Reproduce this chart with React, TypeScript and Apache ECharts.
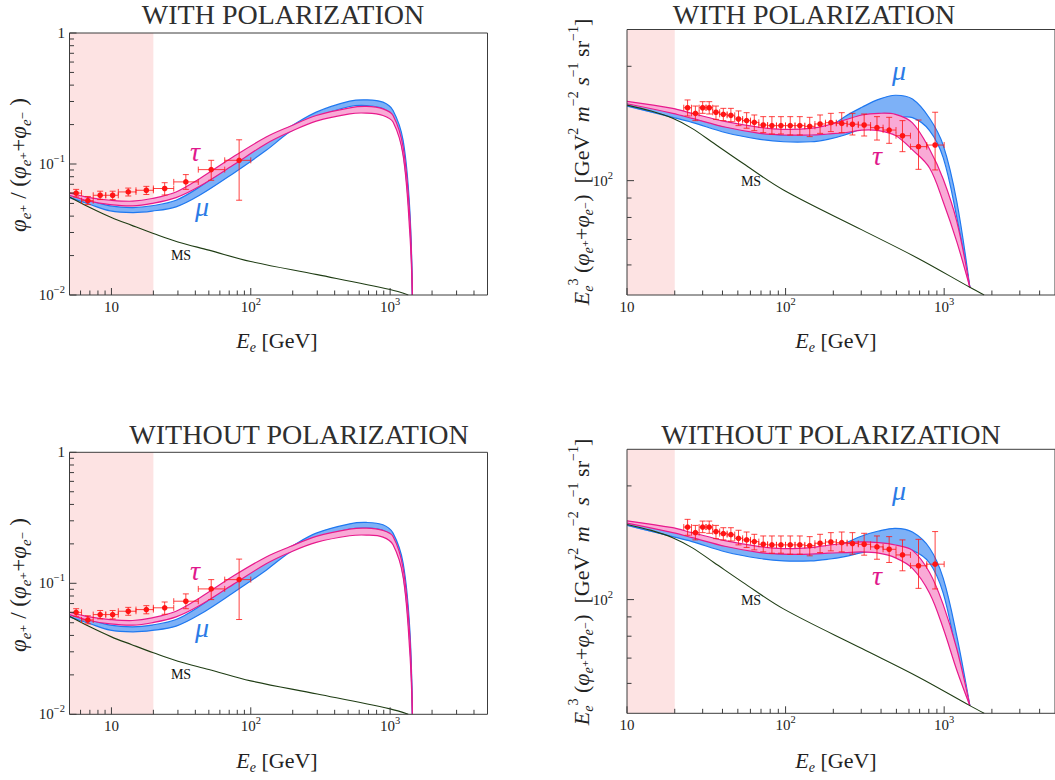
import React, { useEffect, useRef } from "react";
import * as echarts from "echarts";

/* ===================== DATA ===================== */
// Positron fraction measurements (left panels)
const FRAC_E = [5.58, 6.77, 8.3, 10.2, 13.2, 17.8, 24.1, 34.2, 52.0, 82.5];
const FRAC_E_LO = [5.0, 6.1, 7.4, 9.1, 11.2, 15.0, 20.0, 28.0, 42.0, 65.0];
const FRAC_E_HI = [6.1, 7.4, 9.1, 11.2, 15.0, 20.0, 28.0, 42.0, 65.0, 100.0];
const FRAC_VAL = [0.06, 0.0525, 0.0577, 0.0577, 0.0612, 0.063, 0.065, 0.073, 0.0906, 0.1067];
const FRAC_LO = [0.056, 0.049, 0.0535, 0.0535, 0.057, 0.0585, 0.058, 0.064, 0.0751, 0.0529];
const FRAC_HI = [0.064, 0.0565, 0.062, 0.062, 0.0655, 0.0675, 0.072, 0.083, 0.1067, 0.153];

// E^3 (e+ + e-) flux measurements (right panels)
const FLUX_E = [24.1, 27.0, 30.0, 33.0, 36.4, 40.5, 45.2, 50.5, 56.8, 63.5, 72.3, 82.0, 93.5, 107, 123, 142, 165, 193, 226, 264, 313, 377, 450, 546, 689, 877];
const FLUX_E_LO = [22.8, 25.5, 28.5, 31.5, 34.7, 38.4, 42.8, 47.8, 53.6, 60.1, 67.8, 77.0, 87.6, 99.9, 114.7, 132.2, 153.1, 178.5, 208.9, 244.3, 287.5, 343.5, 412, 497, 613, 777];
const FLUX_E_HI = [25.5, 28.5, 31.5, 34.7, 38.4, 42.8, 47.8, 53.6, 60.1, 67.8, 77.0, 87.6, 99.9, 114.7, 132.2, 153.1, 178.5, 208.9, 244.3, 287.5, 343.5, 412, 497, 613, 777, 1000];
const FLUX_VAL = [155.6, 150.4, 155.6, 155.6, 151.4, 149.5, 148.6, 145.3, 143.9, 142.4, 140.1, 139.6, 139.6, 139.6, 139.6, 139.0, 141.0, 142.1, 141.5, 140.8, 140.1, 137.9, 135.9, 131.3, 122.9, 124.1];
const FLUX_LO = [148.0, 143.9, 150.4, 149.8, 145.0, 143.9, 143.0, 139.6, 137.4, 135.4, 133.8, 132.7, 132.7, 131.9, 131.9, 130.6, 133.2, 134.6, 133.8, 131.9, 131.1, 127.9, 125.4, 119.2, 107.1, 106.7];
const FLUX_HI = [163.1, 157.2, 161.4, 161.4, 157.2, 155.0, 155.0, 152.6, 151.0, 148.9, 147.4, 147.4, 147.4, 147.4, 147.4, 146.8, 148.9, 150.4, 151.0, 150.4, 149.8, 147.4, 146.8, 143.9, 144.4, 151.4];

// Model bands, positron fraction
const FRAC_BAND_E = [5, 6.95, 9.8, 14.2, 19.6, 29.1, 42.9, 74.4, 129, 190, 295, 513, 676, 889, 1050, 1240, 1384, 1445];
const A_MU_LO = [0.0554, 0.0493, 0.0439, 0.0426, 0.0437, 0.0471, 0.0577, 0.0844, 0.1271, 0.1753, 0.228, 0.2749, 0.2797, 0.265, 0.225, 0.12, 0.035, 0.01];
const A_MU_UP = [0.0581, 0.0529, 0.0479, 0.0465, 0.048, 0.0529, 0.0668, 0.1006, 0.1514, 0.1913, 0.2488, 0.3018, 0.3089, 0.2966, 0.2563, 0.1514, 0.045, 0.01];
const A_TAU_LO = [0.0577, 0.052, 0.049, 0.0479, 0.05, 0.0554, 0.0676, 0.0977, 0.1428, 0.1753, 0.2126, 0.2416, 0.2445, 0.2347, 0.2089, 0.1164, 0.03, 0.01];
const A_TAU_UP = [0.0601, 0.0554, 0.0529, 0.052, 0.0545, 0.0612, 0.0773, 0.1131, 0.1606, 0.1935, 0.2347, 0.2685, 0.2749, 0.2638, 0.2347, 0.1347, 0.04, 0.01];
const C_MU_LO = [0.0554, 0.0493, 0.0439, 0.0426, 0.0437, 0.0471, 0.0577, 0.0844, 0.126, 0.172, 0.22, 0.2593, 0.2638, 0.2533, 0.215, 0.115, 0.035, 0.01];
const C_MU_UP = [0.0581, 0.0529, 0.0479, 0.0465, 0.048, 0.0529, 0.0668, 0.1006, 0.15, 0.188, 0.2416, 0.2846, 0.2914, 0.2797, 0.2416, 0.1428, 0.045, 0.01];
const C_TAU_LO = [0.0577, 0.052, 0.049, 0.0479, 0.05, 0.0554, 0.0676, 0.0977, 0.141, 0.172, 0.2052, 0.2307, 0.2334, 0.2254, 0.197, 0.112, 0.03, 0.01];
const C_TAU_UP = [0.0601, 0.0554, 0.0529, 0.052, 0.0545, 0.0612, 0.0773, 0.1131, 0.159, 0.19, 0.228, 0.2593, 0.2638, 0.2533, 0.228, 0.13, 0.04, 0.01];
const FRAC_MS_E = [5, 7, 10, 14, 20, 30, 50, 100, 300, 1000, 1350];
const FRAC_MS = [0.056, 0.0465, 0.039, 0.034, 0.0295, 0.0254, 0.022, 0.018, 0.0143, 0.011, 0.01];

// Model bands, E^3 flux
const FLUX_BAND_E = [10, 19.4, 25.7, 42.1, 68.8, 97, 144, 185, 236, 303, 386, 493, 631, 809, 986, 1202, 1452];
const B_MU_LO = [157.2, 146.8, 142.4, 133.7, 128.5, 126.6, 126.6, 128.5, 131.9, 137.3, 143.0, 146.0, 146.5, 135.5, 115.0, 80.0, 52.4];
const B_MU_UP = [160.7, 151.0, 146.8, 138.7, 134.0, 131.9, 133.2, 137.3, 147.4, 156.0, 163.7, 167.8, 164.0, 146.0, 124.0, 88.0, 52.4];
const B_TAU_LO = [159.4, 150.4, 145.9, 138.2, 133.2, 131.9, 131.9, 132.7, 133.7, 135.9, 135.5, 131.5, 120.5, 108.0, 88.0, 69.0, 52.4];
const B_TAU_UP = [161.7, 155.0, 150.4, 143.0, 138.2, 136.5, 137.3, 140.1, 144.4, 148.9, 150.4, 149.5, 142.0, 121.0, 101.0, 78.0, 52.4];
const D_MU_LO = [157.2, 146.8, 142.4, 133.7, 128.5, 126.6, 126.6, 127.9, 130.0, 133.2, 135.4, 136.5, 135.0, 125.0, 104.0, 72.0, 52.4];
const D_MU_UP = [160.7, 151.0, 146.8, 138.7, 134.0, 131.9, 132.7, 135.9, 141.0, 147.4, 151.9, 154.4, 151.0, 137.0, 114.0, 80.0, 52.4];
const D_TAU_LO = [159.4, 150.4, 145.9, 138.2, 133.2, 131.9, 131.9, 132.7, 133.2, 133.7, 132.7, 129.0, 121.0, 104.0, 84.0, 65.0, 52.4];
const D_TAU_UP = [161.7, 155.0, 150.4, 143.0, 138.2, 136.5, 137.3, 139.3, 141.0, 142.1, 141.5, 139.5, 135.0, 118.0, 97.0, 74.0, 52.4];
const FLUX_MS_E = [10, 14.2, 19.4, 25.7, 35.3, 53.8, 97, 303, 682, 1452, 1787];
const FLUX_MS = [158.1, 152.5, 145.9, 137.3, 125.4, 111.1, 94.5, 74.2, 62.5, 52.4, 50.0];

// Axis ranges, shaded region, ticks and labels
const FRAC_X_RANGE = [5, 5000];
const FRAC_Y_RANGE = [0.01, 1];
const FLUX_X_RANGE = [10, 5000];
const FLUX_Y_RANGE = [50, 250];
const FRAC_SHADE = [5, 20];
const FLUX_SHADE = [10, 20];
const X_MAJOR = [10, 100, 1000];
const FRAC_X_MINOR = [6, 7, 8, 9, 20, 30, 40, 50, 60, 70, 80, 90, 200, 300, 400, 500, 600, 700, 800, 900, 2000, 3000, 4000];
const FLUX_X_MINOR = [20, 30, 40, 50, 60, 70, 80, 90, 200, 300, 400, 500, 600, 700, 800, 900, 2000, 3000, 4000];
const X_LABEL_EXP = [1, 2, 3];
const FRAC_Y_MAJOR = [0.01, 0.1, 1];
const FRAC_Y_MINOR = [0.02, 0.03, 0.04, 0.05, 0.06, 0.07, 0.08, 0.09, 0.2, 0.3, 0.4, 0.5, 0.6, 0.7, 0.8, 0.9];
const FRAC_Y_LABEL_EXP = [-2, -1, 0];
const FLUX_Y_MAJOR = [100];
const FLUX_Y_MINOR = [60, 70, 80, 90, 200];
const FLUX_Y_LABEL_EXP = [2];

/* ===================== STYLE ===================== */
const SERIF = "Liberation Serif, Times New Roman, DejaVu Serif, serif";
const TXT = "#222222";
const BLUE_EDGE = "#1f78f0";
const BLUE_FILL = "#7db1f7";
const PINK_EDGE = "#e8198c";
const PINK_FILL = "#f9aad6";
const MS_COLOR = "#1f3d14";
const DOT_RED = "#ff1414";
const BAR_RED = "rgba(255,20,20,0.8)";
const SHADE_COLOR = "#fde3e3";
const FRAME = "#3c3c3c";
const SMOOTH = 0.35;

const lg = Math.log10;

const tickRich = {
  b: { fontFamily: SERIF, fontSize: 15, color: TXT, lineHeight: 22 },
  u: { fontFamily: SERIF, fontSize: 10.5, color: TXT, lineHeight: 12, verticalAlign: "top" },
};

function fmtExp(v: number) {
  const n = Math.round(v);
  if (n === 0) return "{b|1}";
  if (n === 1) return "{b|10}";
  return "{b|10}{u|" + (n < 0 ? "\u2212" + -n : String(n)) + "}";
}

function nameRich(size: number) {
  const lh = Math.round(size * 1.3);
  const sl = Math.round(size * 0.75);
  const ss = Math.round(size * 0.64);
  return {
    n: { fontFamily: SERIF, fontSize: size, fill: TXT, lineHeight: lh },
    i: { fontFamily: SERIF, fontStyle: "italic", fontSize: size, fill: TXT, lineHeight: lh },
    s: { fontFamily: SERIF, fontStyle: "italic", fontSize: ss, fill: TXT, lineHeight: sl, verticalAlign: "bottom" },
    u: { fontFamily: SERIF, fontSize: ss, fill: TXT, lineHeight: sl, verticalAlign: "top" },
  };
}

// A band between two curves, drawn as a smoothed polygon with its two edge lines.
function bandSeries(gi: number, E: number[], lo: number[], up: number[], fill: string, edge: string, z: number) {
  const upL = E.map((e, i) => [lg(e), lg(up[i])]);
  const loL = E.map((e, i) => [lg(e), lg(lo[i])]);
  const sharedEnd = lo[lo.length - 1] === up[up.length - 1];
  return {
    type: "custom",
    xAxisIndex: gi,
    yAxisIndex: gi,
    silent: true,
    clip: true,
    z,
    data: E.map((e, i) => [lg(e), lg(lo[i]), lg(up[i])]),
    renderItem: (params: any, api: any) => {
      if (params.dataIndex !== 0) return null;
      const u = upL.map((p) => api.coord(p));
      const l = loL.map((p) => api.coord(p));
      const back = (sharedEnd ? l.slice(0, l.length - 1) : l.slice()).reverse();
      return {
        type: "group",
        children: [
          { type: "polygon", shape: { points: u.concat(back), smooth: SMOOTH }, style: { fill, lineWidth: 0 } },
          { type: "polyline", shape: { points: u, smooth: SMOOTH }, style: { stroke: edge, lineWidth: 1.2, fill: "none" } },
          { type: "polyline", shape: { points: l, smooth: SMOOTH }, style: { stroke: edge, lineWidth: 1.2, fill: "none" } },
        ],
      };
    },
  };
}

function buildOption() {
  const panels = [
    { geo: { left: 69.5, top: 33, width: 418, height: 262 }, kind: "frac", mu: [A_MU_LO, A_MU_UP], tau: [A_TAU_LO, A_TAU_UP] },
    { geo: { left: 627, top: 29.5, width: 428.5, height: 265.5 }, kind: "flux", mu: [B_MU_LO, B_MU_UP], tau: [B_TAU_LO, B_TAU_UP] },
    { geo: { left: 69.5, top: 452.3, width: 418, height: 262 }, kind: "frac", mu: [C_MU_LO, C_MU_UP], tau: [C_TAU_LO, C_TAU_UP] },
    { geo: { left: 627, top: 449.3, width: 428.5, height: 264 }, kind: "flux", mu: [D_MU_LO, D_MU_UP], tau: [D_TAU_LO, D_TAU_UP] },
  ];

  const grids: any[] = [];
  const xAxes: any[] = [];
  const yAxes: any[] = [];
  const series: any[] = [];

  panels.forEach((p, gi) => {
    const frac = p.kind === "frac";
    const xr = frac ? FRAC_X_RANGE : FLUX_X_RANGE;
    const yr = frac ? FRAC_Y_RANGE : FLUX_Y_RANGE;
    const shade = frac ? FRAC_SHADE : FLUX_SHADE;
    const bandE = frac ? FRAC_BAND_E : FLUX_BAND_E;
    const xMinL = lg(xr[0]);
    const yMinL = lg(yr[0]);
    const yMaxL = lg(yr[1]);

    grids.push({ ...p.geo, show: true, borderColor: FRAME, borderWidth: 1, backgroundColor: "transparent", z: 10 });
    xAxes.push({
      gridIndex: gi,
      type: "value",
      min: xMinL,
      max: lg(xr[1]),
      axisLine: { show: false },
      axisTick: { show: false },
      splitLine: { show: false },
      axisLabel: { customValues: X_LABEL_EXP, formatter: fmtExp, margin: 1, rich: tickRich, fontFamily: SERIF, fontSize: 15, color: TXT },
    });
    yAxes.push({
      gridIndex: gi,
      type: "value",
      min: yMinL,
      max: yMaxL,
      axisLine: { show: false },
      axisTick: { show: false },
      splitLine: { show: false },
      axisLabel: {
        customValues: frac ? FRAC_Y_LABEL_EXP : FLUX_Y_LABEL_EXP,
        formatter: fmtExp,
        margin: frac ? 4.5 : 14,
        rich: tickRich,
        fontFamily: SERIF,
        fontSize: 15,
        color: TXT,
      },
    });

    // shaded low-energy region
    series.push({
      type: "custom",
      xAxisIndex: gi,
      yAxisIndex: gi,
      silent: true,
      z: 1,
      data: [[lg(shade[0]), lg(shade[1])]],
      renderItem: (params: any, api: any) => {
        const a = api.coord([api.value(0), yMaxL]);
        const b = api.coord([api.value(1), yMinL]);
        return { type: "rect", shape: { x: a[0], y: a[1], width: b[0] - a[0], height: b[1] - a[1] }, style: { fill: SHADE_COLOR } };
      },
    });

    // bands
    series.push(bandSeries(gi, bandE, p.mu[0], p.mu[1], BLUE_FILL, BLUE_EDGE, 3));
    series.push(bandSeries(gi, bandE, p.tau[0], p.tau[1], PINK_FILL, PINK_EDGE, 4));

    // MS background line
    const msE = frac ? FRAC_MS_E : FLUX_MS_E;
    const msV = frac ? FRAC_MS : FLUX_MS;
    series.push({
      type: "line",
      xAxisIndex: gi,
      yAxisIndex: gi,
      symbol: "none",
      showSymbol: false,
      smooth: SMOOTH,
      silent: true,
      z: 5,
      lineStyle: { color: MS_COLOR, width: 1.1 },
      data: msE.map((e, i) => [lg(e), lg(msV[i])]),
    });

    // data points with error bars
    const dE = frac ? FRAC_E : FLUX_E;
    const dElo = frac ? FRAC_E_LO : FLUX_E_LO;
    const dEhi = frac ? FRAC_E_HI : FLUX_E_HI;
    const dV = frac ? FRAC_VAL : FLUX_VAL;
    const dLo = frac ? FRAC_LO : FLUX_LO;
    const dHi = frac ? FRAC_HI : FLUX_HI;
    series.push({
      type: "custom",
      xAxisIndex: gi,
      yAxisIndex: gi,
      silent: true,
      z: 7,
      data: dE.map((e, i) => [lg(e), lg(dV[i]), lg(dElo[i]), lg(dEhi[i]), lg(dLo[i]), lg(dHi[i])]),
      renderItem: (params: any, api: any) => {
        const c = api.coord([api.value(0), api.value(1)]);
        const xl = api.coord([api.value(2), api.value(1)])[0];
        const xh = api.coord([api.value(3), api.value(1)])[0];
        const yl = api.coord([api.value(0), api.value(4)])[1];
        const yh = api.coord([api.value(0), api.value(5)])[1];
        const k = 3;
        const st = { stroke: BAR_RED, lineWidth: 1 };
        return {
          type: "group",
          children: [
            { type: "line", shape: { x1: xl, y1: c[1], x2: xh, y2: c[1] }, style: st },
            { type: "line", shape: { x1: xl, y1: c[1] - k, x2: xl, y2: c[1] + k }, style: st },
            { type: "line", shape: { x1: xh, y1: c[1] - k, x2: xh, y2: c[1] + k }, style: st },
            { type: "line", shape: { x1: c[0], y1: yl, x2: c[0], y2: yh }, style: st },
            { type: "line", shape: { x1: c[0] - k, y1: yl, x2: c[0] + k, y2: yl }, style: st },
            { type: "line", shape: { x1: c[0] - k, y1: yh, x2: c[0] + k, y2: yh }, style: st },
            { type: "circle", shape: { cx: c[0], cy: c[1], r: 2.8 }, style: { fill: DOT_RED } },
          ],
        };
      },
    });

    // ticks (inside)
    const xMinor = frac ? FRAC_X_MINOR : FLUX_X_MINOR;
    const xTicks = X_MAJOR.map((v) => [lg(v), yMinL, 1]).concat(xMinor.map((v) => [lg(v), yMinL, 0]));
    series.push({
      type: "custom",
      xAxisIndex: gi,
      yAxisIndex: gi,
      silent: true,
      z: 8,
      data: xTicks,
      renderItem: (params: any, api: any) => {
        const pt = api.coord([api.value(0), api.value(1)]);
        const len = api.value(2) ? 7 : 4.5;
        return { type: "line", shape: { x1: pt[0], y1: pt[1], x2: pt[0], y2: pt[1] - len }, style: { stroke: FRAME, lineWidth: 1 } };
      },
    });
    const yMajor = frac ? FRAC_Y_MAJOR : FLUX_Y_MAJOR;
    const yMinor = frac ? FRAC_Y_MINOR : FLUX_Y_MINOR;
    const yTicks = yMajor.map((v) => [xMinL, lg(v), 1]).concat(yMinor.map((v) => [xMinL, lg(v), 0]));
    series.push({
      type: "custom",
      xAxisIndex: gi,
      yAxisIndex: gi,
      silent: true,
      z: 8,
      data: yTicks,
      renderItem: (params: any, api: any) => {
        const pt = api.coord([api.value(0), api.value(1)]);
        const len = api.value(2) ? 7 : 4.5;
        return { type: "line", shape: { x1: pt[0], y1: pt[1], x2: pt[0] + len, y2: pt[1] }, style: { stroke: FRAME, lineWidth: 1 } };
      },
    });
  });

  // ---- texts ----
  const elements: any[] = [];
  const titles: [string, number, number][] = [
    ["WITH POLARIZATION", 283, 14],
    ["WITH POLARIZATION", 814, 14],
    ["WITHOUT POLARIZATION", 299, 434],
    ["WITHOUT POLARIZATION", 831, 434],
  ];
  titles.forEach(([t, x, y]) =>
    elements.push({
      type: "text",
      x,
      y,
      silent: true,
      style: { text: t, fontFamily: SERIF, fontSize: 28, fill: "#2f2f2f", align: "center", verticalAlign: "middle" },
    })
  );
  const xNamePos = [
    [277, 340],
    [836, 340],
    [277, 760],
    [836, 760],
  ];
  xNamePos.forEach(([x, y]) =>
    elements.push({
      type: "text",
      x,
      y,
      silent: true,
      style: { text: "{i|E}{s|e}{n| [GeV]}", rich: nameRich(22), align: "center", verticalAlign: "middle" },
    })
  );
  const fracName = "{i|\u03c6}{s|e\u207a}{n| / (}{i|\u03c6}{s|e\u207a}{n|+}{i|\u03c6}{s|e\u207b}{n| )}";
  const fluxName =
    "{i|E}{s|e}{u|3}{n| (}{i|\u03c6}{s|e\u207a}{n|+}{i|\u03c6}{s|e\u207b}{n|)  [GeV}{u|2}{n| }{i|m}{u|\u22122}{n| }{i|s}{u|\u22121}{n| sr}{u|\u22121}{n|]}";
  const yNames: [string, number, number, number][] = [
    [fracName, 18, 165, 23],
    [fluxName, 581, 162, 22],
    [fracName, 18, 585, 23],
    [fluxName, 581, 582, 22],
  ];
  yNames.forEach(([t, x, y, size]) =>
    elements.push({
      type: "text",
      x,
      y,
      rotation: Math.PI / 2,
      silent: true,
      style: { text: t, rich: nameRich(size), align: "center", verticalAlign: "middle" },
    })
  );
  const tauPos = [
    [195, 151],
    [877, 155],
    [195, 570],
    [877, 575],
  ];
  const muPos = [
    [202, 206],
    [899, 70],
    [202, 627],
    [899, 490],
  ];
  const msPos = [
    [181, 255],
    [751, 181],
    [181, 674],
    [751, 600],
  ];
  tauPos.forEach(([x, y]) =>
    elements.push({ type: "text", x, y, silent: true, style: { text: "\u03c4", fontFamily: SERIF, fontStyle: "italic", fontSize: 28, fill: "#e0178c", align: "center", verticalAlign: "middle" } })
  );
  muPos.forEach(([x, y]) =>
    elements.push({ type: "text", x, y, silent: true, style: { text: "\u03bc", fontFamily: SERIF, fontStyle: "italic", fontSize: 28, fill: "#2b7be6", align: "center", verticalAlign: "middle" } })
  );
  msPos.forEach(([x, y]) =>
    elements.push({ type: "text", x, y, silent: true, style: { text: "MS", fontFamily: SERIF, fontSize: 14, fill: "#111", align: "center", verticalAlign: "middle" } })
  );

  return {
    animation: false,
    backgroundColor: "#ffffff",
    grid: grids,
    xAxis: xAxes,
    yAxis: yAxes,
    series,
    graphic: { elements },
  };
}

export default function App() {
  const ref = useRef<HTMLDivElement>(null);
  useEffect(() => {
    const chart = echarts.init(ref.current!, null, { renderer: "svg" });
    chart.setOption(buildOption() as any);
    return () => chart.dispose();
  }, []);
  return (
    <div
      ref={ref}
      style={{ position: "absolute", left: 0, top: 0, width: 1055, height: 780, background: "#fff", overflow: "hidden" }}
    />
  );
}
